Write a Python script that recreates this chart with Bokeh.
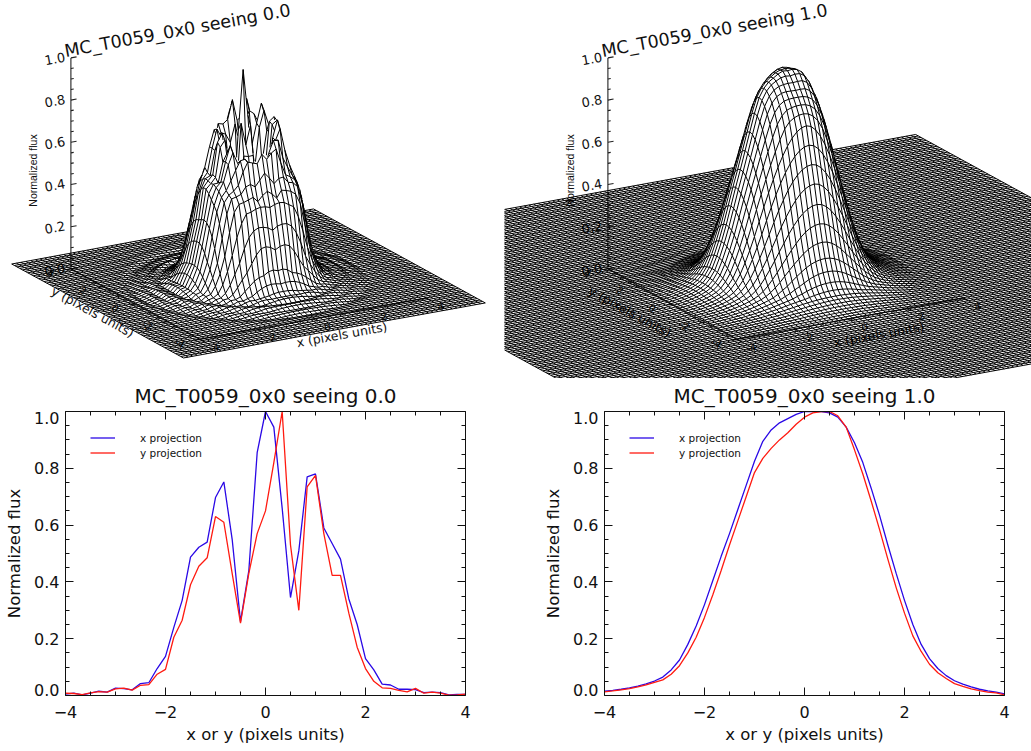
import numpy as np
from bokeh.core.properties import value
from bokeh.embed import file_html
from bokeh.layouts import column, row
from bokeh.models import (FixedTicker, Legend, LegendItem, LinearAxis, Range1d)
from bokeh.plotting import figure
from bokeh.resources import INLINE

# ------------------------------------------------------------------ data
pixel_x = [i / 6 for i in range(-24, 25)]

seeing0_x = [.005, .008, .002, .008, .015, .012, .026, .024, .020, .042, .045, .095, .138,
             .240, .335, .487, .522, .540, .697, .752, .550, .260, .440, .855, 1.0, .945,
             .660, .345, .510, .770, .780, .590, .535, .480, .340, .250, .130, .090, .040,
             .037, .022, .022, .021, .010, .012, .010, .002, .004, .004]
seeing0_y = [.008, .007, .003, .009, .014, .012, .023, .026, .019, .036, .038, .075, .092,
             .205, .265, .390, .455, .485, .630, .610, .430, .255, .430, .570, .650, .820,
             1.0, .530, .300, .735, .775, .570, .423, .423, .290, .170, .095, .050, .027,
             .025, .018, .013, .025, .008, .012, .008, .001, .002, .005]
seeing1_x = [.015, .018, .022, .027, .033, .041, .051, .065, .090, .125, .180, .245, .320,
             .405, .490, .570, .655, .740, .825, .895, .935, .960, .975, .990, 1.0, 1.0,
             1.0, .995, .980, .945, .890, .820, .730, .635, .530, .430, .335, .250, .180,
             .130, .095, .070, .052, .040, .030, .022, .016, .012, .006]
seeing1_y = [.013, .016, .020, .024, .030, .037, .046, .055, .075, .105, .150, .205, .275,
             .355, .440, .530, .615, .700, .785, .835, .870, .900, .925, .955, .980, .995,
             1.0, 1.0, .985, .945, .865, .780, .685, .585, .480, .380, .290, .210, .155,
             .110, .080, .060, .042, .032, .023, .017, .012, .009, .002]
# outer wings of the surface, beyond the range of the profile plots
wing_r = [4.0, 4.5, 5.0, 6.0, 7.0, 11.0]
wing_z1 = [1.0, .55, .30, .10, .03, 0.0]

# seeing 0.0 surface: heights read along eight directions round the hill
sector_r = [i / 6 for i in range(16)]
sector_deg = [0, 45, 90, 135, 180, 225, 270, 315, 360]
sec_000 = [.80, .72, .50, .35, .50, .77, .78, .59, .535, .48, .34, .25, .13, .09, .04, .035]
sec_045 = [.85, .80, .50, .40, .55, .72, .80, .72, .55, .46, .34, .22, .13, .08, .05, .03]
sec_090 = [.85, 1.0, .55, .30, .60, .74, .775, .60, .42, .42, .29, .17, .095, .05, .027, .025]
sec_135 = [.80, .70, .45, .35, .55, .68, .72, .62, .52, .47, .36, .24, .13, .08, .04, .03]
sec_180 = [.80, .86, .44, .26, .55, .75, .70, .54, .52, .487, .335, .24, .138, .095, .045, .042]
sec_225 = [.70, .55, .40, .30, .45, .60, .66, .60, .50, .48, .47, .33, .19, .10, .05, .03]
sec_270 = [.65, .57, .43, .255, .43, .61, .63, .485, .455, .39, .265, .205, .092, .075, .038, .036]
sec_315 = [.75, .60, .40, .35, .55, .68, .74, .60, .52, .50, .46, .30, .16, .09, .05, .03]
ring_speckle = [1.0, .90, 1.06, .92, 1.08, .90, 1.10, .95, 1.02, .88, 1.07, .93,
                1.0, .92, 1.05, .94, 1.02, .93, 1.04, .92, 1.03, .94, 1.06, .93, 1.0]
spike_x = [0, 0, 0, -1 / 6, 1 / 6]
spike_y = [1 / 3, 1 / 6, 1 / 2, 1 / 3, 1 / 3]
spike_z = [1.0, .65, .53, .72, .78]

x_major = [-4, -2, 0, 2, 4]
x_minor = [-3.5, -3, -2.5, -1.5, -1, -.5, .5, 1, 1.5, 2.5, 3, 3.5]
y_major = [0, .2, .4, .6, .8, 1]
y_minor = [.05, .1, .15, .25, .3, .35, .45, .5, .55, .65, .7, .75, .85, .9, .95]
y_labels = ["0.0", "0.2", "0.4", "0.6", "0.8", "1.0"]
z_tick_labels = ["0.2", "0.4", "0.6", "0.8", "1.0"]
z_tick_values = [.2, .4, .6, .8, 1.0]
axis_tick_labels = ["-4", "-2", "0", "2", "4"]

FONT = "DejaVu Sans"
EX = (28.3, -5.16)
EY = (-16.1, -8.81)
ZS = 211.0
BLUE, RED = "#2a08e6", "#ff1a10"


def blend(xg, yg, cut_x, cut_y, x0, y0):
    X, Y = np.meshgrid(xg, yg)
    dx, dy = X - x0, Y - y0
    r = np.hypot(dx, dy)
    c2 = np.where(r > 0, dx ** 2 / np.where(r > 0, r ** 2, 1), .5)
    sx = np.where(dx < 0, -1, 1)
    sy = np.where(dy < 0, -1, 1)
    px, py = x0 + sx * r, y0 + sy * r
    px_c, py_c = np.clip(px, -4, 4), np.clip(py, -4, 4)
    zx = np.interp(px_c, pixel_x, cut_x)
    zy = np.interp(py_c, pixel_x, cut_y)
    zx = zx * np.interp(np.abs(px), wing_r, wing_z1, left=1.0)
    zy = zy * np.interp(np.abs(py), wing_r, wing_z1, left=1.0)
    return c2 * zx + (1 - c2) * zy


def surface_seeing0(xg, yg):
    x0, y0 = 0.0, .1
    Z = blend(xg, yg, seeing0_x, seeing0_y, x0, y0)
    X, Y = np.meshgrid(xg, yg)
    dx, dy = X - x0, Y - y0
    r = np.hypot(dx, dy)
    deg = np.degrees(np.arctan2(dy, dx)) % 360
    secs = [sec_000, sec_045, sec_090, sec_135, sec_180, sec_225, sec_270, sec_315, sec_000]
    stack = np.array([np.interp(r, sector_r, s) for s in secs])
    i = np.clip((deg // 45).astype(int), 0, 7)
    f = deg / 45 - i
    rows, cols = np.indices(r.shape)
    polar = stack[i, rows, cols] * (1 - f) + stack[i + 1, rows, cols] * f
    speck = np.interp(deg, np.linspace(0, 360, len(ring_speckle)), ring_speckle)
    band = (r > .5) & (r < 1.35)
    polar = np.where(band, polar * speck, polar)
    Z = np.where(r <= sector_r[-1], polar, Z)
    for sx_, sy_, sz_ in zip(spike_x, spike_y, spike_z):
        Z[np.argmin(np.abs(np.asarray(yg) - sy_)), np.argmin(np.abs(np.asarray(xg) - sx_))] = sz_
    return Z


def sample(m, px, py):
    n = (np.ceil(np.abs(np.diff(px)) * 2).astype(int) + 1)
    idx = np.repeat(np.arange(m - 1), n)
    frac = np.concatenate([np.arange(k) / k for k in n])
    idx = np.append(idx, m - 2)
    frac = np.append(frac, 1.0)
    sx = px[idx] + (px[idx + 1] - px[idx]) * frac
    sy = py[idx] + (py[idx + 1] - py[idx]) * frac
    return sx, sy, frac == 0


def visible_mesh(xg, yg, Z, cx, cy):
    X, Y = np.meshgrid(xg, yg)
    SX = cx + X * EX[0] + Y * EY[0]
    SY = cy + X * EX[1] + Y * EY[1] - Z * ZS
    x_min = SX.min() - 2
    width = int((SX.max() - x_min) * 2) + 4
    hi = np.full(width, np.inf)     # smallest screen y so far (upper horizon)
    lo = np.full(width, -np.inf)    # largest screen y so far (lower horizon)
    eps = .35
    xs_out, ys_out = [], []

    def update(sx, sy):
        ix = ((sx - x_min) * 2).astype(int)
        np.minimum.at(hi, ix, sy)
        np.maximum.at(lo, ix, sy)

    def vis(sx, sy):
        ix = ((sx - x_min) * 2).astype(int)
        return (sy < hi[ix] + eps) | (sy > lo[ix] - eps)

    def emit_row(px, py):
        sx, sy, node = sample(len(px), px, py)
        v = vis(sx, sy)
        edges = np.flatnonzero(np.diff(np.r_[0, v.astype(int), 0]))
        for a, b in zip(edges[::2], edges[1::2]):
            keep = np.zeros(len(sx), bool)
            keep[a:b] = node[a:b]
            keep[a] = keep[b - 1] = True
            if b - a > 1:
                xs_out.append(sx[keep].tolist())
                ys_out.append(sy[keep].tolist())
        return sx, sy

    ny, nx = Z.shape
    sx, sy = emit_row(SX[0], SY[0])
    update(sx, sy)
    open_line = [None] * nx
    for k in range(ny - 1):
        pend = []
        for j in range(nx):
            x0, y0, x1, y1 = SX[k, j], SY[k, j], SX[k + 1, j], SY[k + 1, j]
            n = max(2, int(np.hypot(x1 - x0, y1 - y0) * 1.5) + 1)
            t = np.linspace(0, 1, n)
            sx, sy = x0 + (x1 - x0) * t, y0 + (y1 - y0) * t
            v = vis(sx, sy)
            edges = np.flatnonzero(np.diff(np.r_[0, v.astype(int), 0]))
            ended = None
            for a, b in zip(edges[::2], edges[1::2]):
                b1 = b - 1
                if a == 0 and open_line[j] is not None:
                    i_l = open_line[j]
                    xs_out[i_l].append(float(sx[b1]))
                    ys_out[i_l].append(float(sy[b1]))
                elif b1 > a:
                    xs_out.append([float(sx[a]), float(sx[b1])])
                    ys_out.append([float(sy[a]), float(sy[b1])])
                    i_l = len(xs_out) - 1
                else:
                    continue
                if b1 == n - 1:
                    ended = i_l
            open_line[j] = ended
            pend.append((sx, sy))
        rx, ry = emit_row(SX[k + 1], SY[k + 1])
        for sx, sy in pend:
            update(sx, sy)
        update(rx, ry)
    return xs_out, ys_out


def panel3d(width, x_lo, x_hi, cx, cy, mesh, title):
    p = figure(width=width, height=378, x_range=Range1d(x_lo, x_hi), y_range=Range1d(378, 0),
               x_axis_location=None, y_axis_location=None, toolbar_location=None,
               output_backend="svg", min_border=0, outline_line_color=None)
    p.grid.visible = False

    def pr(x, y, z=0.0):
        return cx + x * EX[0] + y * EY[0], cy + x * EX[1] + y * EY[1] - z * ZS

    tilt = np.arctan2(-EX[1], EX[0])
    tilt2 = np.arctan2(-EY[1], -EY[0]) * -1
    ax_x, ax_y = [], []
    # z axis and its ticks
    f = pr(-4, 4, 0)
    t = pr(-4, 4, 1)
    ax_x.append([f[0], t[0]])
    ax_y.append([f[1], t[1]])
    for i in range(21):
        zv = i * .05
        a = pr(-4, 4, zv)
        L = .2 if i % 4 == 0 else .1
        b = pr(-4 + L, 4, zv)
        ax_x.append([a[0], b[0]])
        ax_y.append([a[1], b[1]])
    # x and y axes
    for s, e in [((-4, 4), (-4, -4)), ((-4, -4), (4, -4))]:
        a, b = pr(*s), pr(*e)
        ax_x.append([a[0], b[0]])
        ax_y.append([a[1], b[1]])
    for v in x_major + x_minor:
        L = .3 if v in x_major else .15
        a, b = pr(v, -4), pr(v, -4 - L)
        ax_x.append([a[0], b[0]])
        ax_y.append([a[1], b[1]])
        a, b = pr(-4, v), pr(-4 - L * .6, v)
        ax_x.append([a[0], b[0]])
        ax_y.append([a[1], b[1]])
    p.multi_line(ax_x, ax_y, line_color="#222222", line_width=1.1)

    # texts under the mesh
    def txt(x, y, s, size, angle=0.0, font=FONT):
        p.text([x], [y], text=[s], text_font=value(font), text_font_size=size, angle=angle,
               text_align="center", text_baseline="middle", text_color="#111111")

    txt(cx - 71, 30, title, "17.5px", tilt)
    for v, s in zip(z_tick_values, z_tick_labels):
        a = pr(-4, 4, v)
        txt(a[0] - 16, a[1] + 1, s, "13px", tilt)
    a = pr(-4, 4, 0)
    txt(a[0] - 16, a[1] + 1, "0.0", "13px", tilt)
    txt(cx - 216, 170, "Normalized flux", "10.5px", np.pi / 2, "Liberation Sans")
    for v, s in zip(x_major, axis_tick_labels):
        a = pr(v, -4.9)
        txt(a[0], a[1], s, "10px", tilt)
        a = pr(-4.7, v)
        txt(a[0], a[1], s, "10px", tilt2)
    a = pr(0, -5.8)
    txt(a[0], a[1], "x (pixels units)", "12.5px", tilt)
    a = pr(-5.5, 0)
    txt(a[0], a[1], "y (pixels units)", "12.5px", tilt2)

    p.multi_line(mesh[0], mesh[1], line_color="#000000", line_width=1.0)
    return p


def profile(width, left_border, right_border, cut_x, cut_y, title):
    p = figure(width=width, height=373, x_range=Range1d(-4, 4), y_range=Range1d(0, 1),
               toolbar_location=None, output_backend="svg",
               min_border_left=left_border, min_border_right=right_border,
               min_border_top=33, min_border_bottom=56,
               title=title, outline_line_color=None)
    p.grid.visible = False
    p.title.align = "center"
    p.title.text_font = FONT
    p.title.text_font_size = "20px"
    p.title.text_font_style = "normal"
    p.title.text_color = "#111111"
    p.title.standoff = 7
    xt = FixedTicker(ticks=x_major, minor_ticks=x_minor)
    yt = FixedTicker(ticks=y_major, minor_ticks=y_minor)
    extra_top = LinearAxis(ticker=xt)
    extra_right = LinearAxis(ticker=yt)
    p.add_layout(extra_top, "above")
    p.add_layout(extra_right, "right")
    p.xaxis.ticker = xt
    p.yaxis.ticker = yt
    bx, ly = p.below[0], p.left[0]
    # labels of the y axis sit on an axis of their own: the end ones are pulled into the frame
    shift = 6 / 284
    y_label_pos = [y_major[0] + shift] + y_major[1:-1] + [y_major[-1] - shift]
    ly_text = LinearAxis(ticker=FixedTicker(ticks=y_label_pos),
                         major_label_overrides=dict(zip(y_label_pos, y_labels)))
    p.add_layout(ly_text, "left")
    for ax in p.axis:
        ax.major_tick_in = 8
        ax.major_tick_out = 0
        ax.minor_tick_in = 4
        ax.minor_tick_out = 0
        ax.axis_line_color = "#111111"
        ax.major_tick_line_color = "#111111"
        ax.minor_tick_line_color = "#111111"
    ly_text.axis_line_color = None
    ly_text.major_tick_line_color = None
    ly_text.minor_tick_line_color = None
    ly_text.major_tick_in = 0
    for ax in (extra_top, extra_right, ly):
        ax.major_label_overrides = {v: "" for v in (x_major if ax is extra_top else y_major)}
        ax.major_label_standoff = 0
    bx.axis_label = "x or y (pixels units)"
    ly_text.axis_label = "Normalized flux"
    for ax in (bx, ly_text):
        ax.axis_label_text_font = FONT
        ax.axis_label_text_font_size = "16.5px"
        ax.axis_label_text_font_style = "normal"
        ax.axis_label_text_color = "#111111"
        ax.major_label_text_font = FONT
        ax.major_label_text_font_size = "16px"
        ax.major_label_text_color = "#111111"
    bx.major_label_standoff = 10
    bx.axis_label_standoff = 4
    bx.major_label_overrides = {-4: "\u22124", -2: "\u22122", 0: "0", 2: "2", 4: "4"}
    ly_text.major_label_standoff = 6
    ly_text.axis_label_standoff = 7
    r1 = p.line(pixel_x, cut_x, line_color=BLUE, line_width=1.3)
    r2 = p.line(pixel_x, cut_y, line_color=RED, line_width=1.3)
    leg = Legend(items=[LegendItem(label="x projection", renderers=[r1]),
                        LegendItem(label="y projection", renderers=[r2])],
                 location=(25, 235), glyph_width=25, glyph_height=15, label_height=15,
                 label_standoff=25, spacing=0, margin=0, padding=0,
                 border_line_color=None, background_fill_color=None,
                 label_text_font=FONT, label_text_font_size="10.5px", label_text_color="#111111")
    p.add_layout(leg)
    return p


grid_left = np.arange(-32, 33) / 6
grid_right = np.arange(-64, 65) / 6
z_left = surface_seeing0(grid_left, grid_left)
z_right = blend(grid_right, grid_right, seeing1_x, seeing1_y, 1 / 6, 1 / 6)
mesh_left = visible_mesh(grid_left, grid_left, z_left, 248, 283)
mesh_right = visible_mesh(grid_right, grid_right, z_right, 785, 283)

title0 = "MC_T0059_0x0 seeing 0.0"
title1 = "MC_T0059_0x0 seeing 1.0"
top_l = panel3d(504, 0, 504, 248, 283, mesh_left, title0)
top_r = panel3d(527, 504, 1031, 785, 283, mesh_right, title1)
bot_l = profile(504, 65, 39, seeing0_x, seeing0_y, title0)
bot_r = profile(527, 100, 27, seeing1_x, seeing1_y, title1)

layout = column(row(top_l, top_r, spacing=0), row(bot_l, bot_r, spacing=0), spacing=0)
open("out.html", "w").write(file_html(layout, INLINE))
